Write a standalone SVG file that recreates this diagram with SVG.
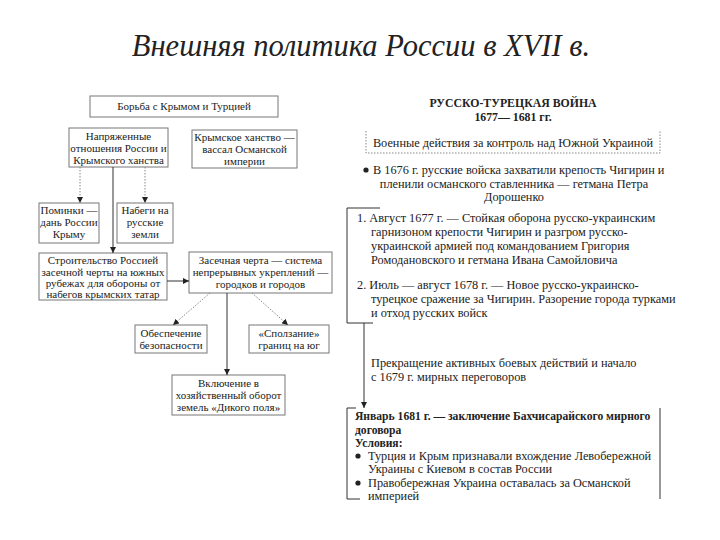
<svg xmlns="http://www.w3.org/2000/svg" width="720" height="540" viewBox="0 0 720 540">
<style>
.t{font-family:"Liberation Serif","Times New Roman",serif;fill:#222}
.s{font-size:11px}
.r{font-size:12.3px}
.b{font-weight:bold}
.box{fill:#fff;stroke:#777;stroke-width:1}
.ln{fill:none;stroke:#333;stroke-width:1}
.dt{fill:none;stroke:#888;stroke-width:1;stroke-dasharray:1.5 1.5}
</style>
<defs>
<marker id="ah" viewBox="0 0 8 8" refX="8" refY="4" markerWidth="6" markerHeight="6" orient="auto" markerUnits="userSpaceOnUse">
<path d="M0,0 L8,4 L0,8 z" fill="#222"/>
</marker>
</defs>
<rect width="720" height="540" fill="#fff"/>
<text class="t" x="361" y="56" font-size="30.5" font-style="italic" text-anchor="middle" fill="#111">Внешняя политика России в XVII в.</text>

<g id="n-struggle"><rect class="box" x="90" y="96" width="188" height="21"/>
<text class="t s" x="184" y="110" text-anchor="middle">Борьба с Крымом и Турцией</text></g>
<g id="n-tension"><rect class="box" x="69" y="128" width="99" height="39"/>
<text class="t s" x="118.5" text-anchor="middle"><tspan x="118.5" y="140">Напряженные</tspan><tspan x="118.5" y="152">отношения России и</tspan><tspan x="118.5" y="164">Крымского ханства</tspan></text></g>
<g id="n-vassal"><rect class="box" x="192" y="130" width="105" height="38"/>
<text class="t s" text-anchor="middle"><tspan x="244.5" y="141">Крымское ханство —</tspan><tspan x="244.5" y="153">вассал Османской</tspan><tspan x="244.5" y="165">империи</tspan></text></g>
<g id="n-tribute"><rect class="box" x="39" y="203" width="60" height="40"/>
<text class="t s" text-anchor="middle"><tspan x="69" y="214">Поминки —</tspan><tspan x="69" y="226">дань России</tspan><tspan x="69" y="238">Крыму</tspan></text></g>
<g id="n-raids"><rect class="box" x="117" y="203" width="56" height="40"/>
<text class="t s" text-anchor="middle"><tspan x="145" y="214">Набеги на</tspan><tspan x="145" y="226">русские</tspan><tspan x="145" y="238">земли</tspan></text></g>
<g id="n-build"><rect class="box" x="39" y="253" width="128" height="47"/>
<text class="t s" text-anchor="middle"><tspan x="103" y="264">Строительство Россией</tspan><tspan x="103" y="275.5">засечной черты на южных</tspan><tspan x="103" y="287">рубежах для обороны от</tspan><tspan x="103" y="298">набегов крымских татар</tspan></text></g>
<g id="n-line"><rect class="box" x="189" y="252" width="143" height="41"/>
<text class="t s" text-anchor="middle"><tspan x="260.5" y="264">Засечная черта — система</tspan><tspan x="260.5" y="276">непрерывных укреплений —</tspan><tspan x="260.5" y="288">городков и городов</tspan></text></g>
<g id="n-safety"><rect class="box" x="135" y="325" width="72" height="28"/>
<text class="t s" text-anchor="middle"><tspan x="171" y="337">Обеспечение</tspan><tspan x="171" y="349">безопасности</tspan></text></g>
<g id="n-south"><rect class="box" x="249" y="325" width="80" height="28"/>
<text class="t s" text-anchor="middle"><tspan x="289" y="337">«Сползание»</tspan><tspan x="289" y="349">границ на юг</tspan></text></g>
<g id="n-field"><rect class="box" x="172" y="375" width="113" height="40"/>
<text class="t s" text-anchor="middle"><tspan x="228.5" y="387">Включение в</tspan><tspan x="228.5" y="399">хозяйственный оборот</tspan><tspan x="228.5" y="411">земель «Дикого поля»</tspan></text></g>

<g id="n-war-title">
<text class="t b" font-size="11.8" text-anchor="middle"><tspan x="513" y="107">РУССКО-ТУРЕЦКАЯ ВОЙНА</tspan><tspan x="513" y="121">1677— 1681 гг.</tspan></text></g>
<g id="n-war-actions">
<path class="dt" d="M366,131 V153 H660 V131"/>
<text class="t r" x="513" y="147" text-anchor="middle">Военные действия за контроль над Южной Украиной</text></g>
<g id="n-1676">
<circle cx="366" cy="170" r="2.6" fill="#222"/>
<text class="t r"><tspan x="373" y="174">В 1676 г. русские войска захватили крепость Чигирин и</tspan><tspan x="514" y="188" text-anchor="middle">пленили османского ставленника — гетмана Петра</tspan><tspan x="514" y="201" text-anchor="middle">Дорошенко</tspan></text></g>
<g id="n-battles">
<path class="ln" d="M380,208 H347 V323 H373"/>
<text class="t r"><tspan x="357" y="222">1. Август 1677 г. — Стойкая оборона русско-украинским</tspan><tspan x="371" y="236">гарнизоном крепости Чигирин и разгром русско-</tspan><tspan x="371" y="250">украинской армией под командованием Григория</tspan><tspan x="371" y="264">Ромодановского и гетмана Ивана Самойловича</tspan><tspan x="357" y="289">2. Июль — август 1678 г. — Новое русско-украинско-</tspan><tspan x="371" y="303">турецкое сражение за Чигирин. Разорение города турками</tspan><tspan x="371" y="317">и отход русских войск</tspan></text></g>
<g id="n-talks">
<text class="t r"><tspan x="371" y="367">Прекращение активных боевых действий и начало</tspan><tspan x="371" y="381">с 1679 г. мирных переговоров</tspan></text></g>
<g id="n-treaty">
<path class="ln" d="M356,408 H347 V499 H360" stroke="#666"/>
<path class="ln" d="M660,408 V499" stroke="#666"/>
<text class="t r"><tspan x="355" y="420" font-weight="bold" font-size="11.6">Январь 1681 г. — заключение Бахчисарайского мирного</tspan><tspan x="355" y="434" font-weight="bold" font-size="11.6">договора</tspan><tspan x="355" y="447" font-weight="bold" font-size="11.6">Условия:</tspan><tspan x="368" y="460">Турция и Крым признавали вхождение Левобережной</tspan><tspan x="368" y="473">Украины с Киевом в состав России</tspan><tspan x="368" y="487">Правобережная Украина оставалась за Османской</tspan><tspan x="368" y="500">империей</tspan></text>
<circle cx="358" cy="456" r="2.6" fill="#222"/>
<circle cx="358" cy="483" r="2.6" fill="#222"/></g>

<g id="connectors">
<line class="dt" x1="80" y1="167" x2="80" y2="203" marker-end="url(#ah)"/>
<line class="dt" x1="145" y1="167" x2="145" y2="203" marker-end="url(#ah)"/>
<line class="ln" x1="113" y1="167" x2="113" y2="253" marker-end="url(#ah)"/>
<line class="ln" x1="167" y1="281" x2="189" y2="281" marker-end="url(#ah)"/>
<line class="dt" x1="210" y1="293" x2="173" y2="325" marker-end="url(#ah)"/>
<line class="ln" x1="227" y1="293" x2="227" y2="375" marker-end="url(#ah)"/>
<line class="dt" x1="252" y1="293" x2="288" y2="325" marker-end="url(#ah)"/>
<line class="ln" x1="364" y1="323" x2="364" y2="408" marker-end="url(#ah)"/>
</g>
</svg>
